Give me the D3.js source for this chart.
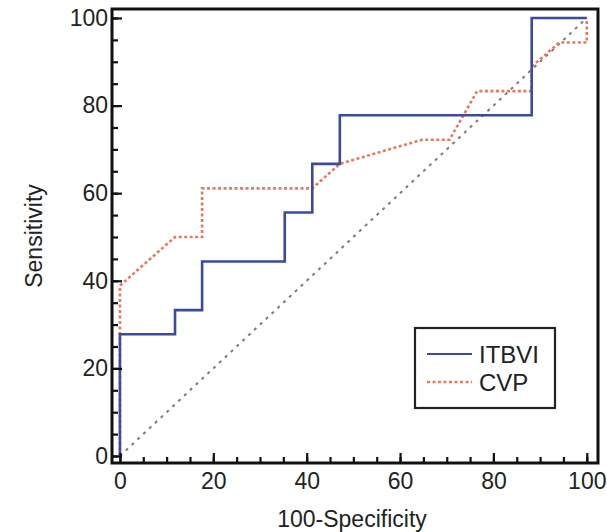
<!DOCTYPE html>
<html>
<head>
<meta charset="utf-8">
<script src="https://cdn.jsdelivr.net/npm/d3@7"></script>
<style>
body { margin: 0; background: #fff; }
text { font-family: "Liberation Sans", Arial, sans-serif; fill: #222; }
</style>
</head>
<body>
<svg width="607" height="532"></svg>
<script>
// ROC curves, values in percent
var itbviX = [0, 0, 11.8, 11.8, 17.6, 17.6, 35.3, 35.3, 41.2, 41.2, 47.1, 47.1, 88.2, 88.2, 100];
var itbviY = [0, 27.8, 27.8, 33.3, 33.3, 44.4, 44.4, 55.6, 55.6, 66.7, 66.7, 77.8, 77.8, 100, 100];

var cvpX = [0, 0, 11.8, 17.6, 17.6, 41.2, 47.1, 64.7, 70.6, 76.5, 88.2, 88.2, 94.1, 100, 100];
var cvpY = [0, 38.9, 50, 50, 61.1, 61.1, 66.7, 72.2, 72.2, 83.3, 83.3, 88.9, 94.4, 94.4, 100];

var majorTicks = [0, 20, 40, 60, 80, 100];
var minorTicks = d3.range(0, 101, 5);
var seriesNames = ["ITBVI", "CVP"];

var svg = d3.select("svg");

var x = d3.scaleLinear().domain([-1.7, 102.4]).range([112, 598]);
var y = d3.scaleLinear().domain([-1.6, 102.05]).range([463, 9]);

// reference diagonal
svg.append("line")
	.attr("x1", x(0)).attr("y1", y(0))
	.attr("x2", x(100)).attr("y2", y(100))
	.attr("stroke", "#7a7a7a")
	.attr("stroke-width", 2)
	.attr("stroke-dasharray", "3,5");

var line = d3.line()
	.x((d) => x(d[0]))
	.y((d) => y(d[1]));

// CVP (dotted)
svg.append("path")
	.datum(d3.zip(cvpX, cvpY))
	.attr("d", line)
	.attr("fill", "none")
	.attr("stroke", "#e8795f")
	.attr("stroke-width", 2.6)
	.attr("stroke-dasharray", "3,2.5");

// ITBVI (solid)
svg.append("path")
	.datum(d3.zip(itbviX, itbviY))
	.attr("d", line)
	.attr("fill", "none")
	.attr("stroke", "#3a4b9e")
	.attr("stroke-width", 2.6);

// frame
svg.append("rect")
	.attr("x", 112).attr("y", 9)
	.attr("width", 598 - 112).attr("height", 463 - 9)
	.attr("fill", "none")
	.attr("stroke", "#111")
	.attr("stroke-width", 3);

// minor ticks (inward)
svg.append("g")
	.attr("transform", "translate(0,463)")
	.call(d3.axisBottom(x).tickValues(minorTicks).tickSize(-6).tickFormat(""))
	.call((g) => g.select(".domain").remove());
svg.append("g")
	.attr("transform", "translate(112,0)")
	.call(d3.axisLeft(y).tickValues(minorTicks).tickSize(-6).tickFormat(""))
	.call((g) => g.select(".domain").remove());

// major ticks + labels
var xAxis = svg.append("g")
	.attr("transform", "translate(0,463)")
	.call(d3.axisBottom(x).tickValues(majorTicks).tickSize(-10).tickPadding(10))
	.call((g) => g.select(".domain").remove());
var yAxis = svg.append("g")
	.attr("transform", "translate(112,0)")
	.call(d3.axisLeft(y).tickValues(majorTicks).tickSize(-10).tickPadding(4))
	.call((g) => g.select(".domain").remove());

svg.selectAll(".tick line").attr("stroke", "#111").attr("stroke-width", 2.2);
svg.selectAll(".tick text")
	.style("font-family", "'Liberation Sans', Arial, sans-serif")
	.style("font-size", "23px")
	.attr("fill", "#222");

// axis titles
svg.append("text")
	.attr("x", 352).attr("y", 527)
	.attr("text-anchor", "middle")
	.style("font-size", "23px")
	.text("100-Specificity");

svg.append("text")
	.attr("transform", "translate(42,236) rotate(-90)")
	.attr("text-anchor", "middle")
	.style("font-size", "23px")
	.text("Sensitivity");

// legend
var legend = svg.append("g");
legend.append("rect")
	.attr("x", 415).attr("y", 328)
	.attr("width", 140).attr("height", 80)
	.attr("fill", "#fff")
	.attr("stroke", "#222")
	.attr("stroke-width", 2.2);

var legendItems = legend.selectAll("g.item")
	.data(seriesNames)
	.enter().append("g")
	.attr("class", "item")
	.attr("transform", (d, i) => "translate(0," + (354 + i * 28) + ")");

legendItems.append("line")
	.attr("x1", 427).attr("x2", 472)
	.attr("stroke", (d, i) => i == 0 ? "#3a4b9e" : "#e8795f")
	.attr("stroke-width", (d, i) => i == 0 ? 2.2 : 2.4)
	.attr("stroke-dasharray", (d, i) => i == 0 ? null : "3,2.5");

legendItems.append("text")
	.attr("x", 479).attr("y", 9)
	.style("font-size", "24px")
	.text((d) => d);
</script>
</body>
</html>
